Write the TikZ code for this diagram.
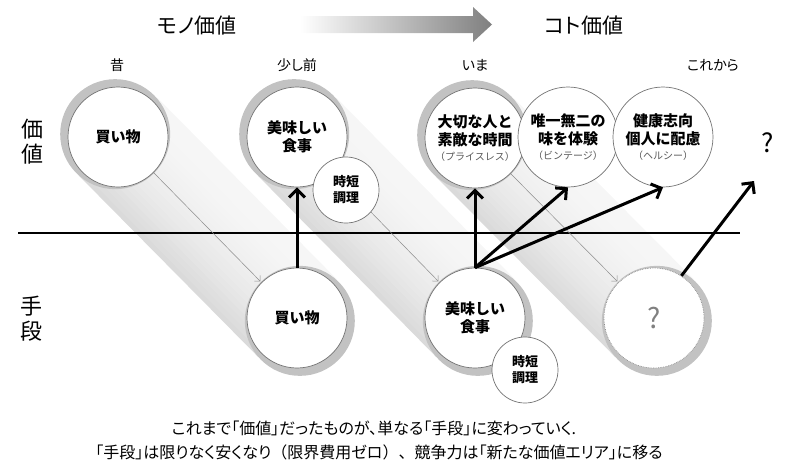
\documentclass[tikz,border=0pt]{standalone}
\usepackage{fontspec}
\setmainfont{Noto Sans CJK JP}
\newfontfamily\jpp[RawFeature=+palt]{Noto Sans CJK JP}
\usetikzlibrary{arrows.meta,calc,backgrounds}
\newcommand\subtxt{\fontsize{10}{12}\selectfont\mdseries\color{black!65}}
\begin{document}
\begin{tikzpicture}[x=1pt,y=-1pt,
  circ/.style={circle, draw=black!55, line width=0.7pt, fill=white, minimum size=100pt, inner sep=0pt, align=center, font=\fontsize{15}{18}\selectfont\bfseries},
  smallcirc/.style={circle, draw=black!55, line width=0.7pt, fill=white, minimum size=66pt, inner sep=0pt, align=center, font=\fontsize{13}{16}\selectfont\bfseries},
  era/.style={font=\jpp\fontsize{14}{16}\selectfont, inner sep=0pt},
  title/.style={font=\jpp\fontsize{21}{24}\selectfont, inner sep=0pt},
  side/.style={font=\fontsize{22}{25}\selectfont, align=center, inner sep=0pt},
  note/.style={font=\jpp\fontsize{16}{18}\selectfont, inner sep=0pt},
  thinarr/.style={draw=black!45, line width=0.5pt, -{Straight Barb[length=4pt,width=8pt]}, shorten >=1.5pt},
  thickarr/.style={draw=black, line width=3pt, -{Straight Barb[length=8pt,width=16pt]}},
  rim/.style={fill=black!24}
]
\useasboundingbox (0,0) rectangle (800,469);

% centres
\coordinate (ct1) at (118,137);
\coordinate (ct2) at (297,137);
\coordinate (ct3) at (475,138);
\coordinate (cb1) at (297,318);
\coordinate (cb2) at (475,318);
\coordinate (cb3) at (654,318);

% nodes
\node[circ] (t1) at (ct1) {買い物};
\node[circ] (t2) at (ct2) {美味しい\\食事};
\node[smallcirc] (s1) at (346,190) {時短\\調理};
\node[circ] (t3) at (ct3) {大切な人と\\素敵な時間\\[-3pt]{\subtxt（プライスレス）}};
\node[circ] (t4) at (568,137) {唯一無二の\\味を体験\\[-3pt]{\subtxt（ビンテージ）}};
\node[circ] (t5) at (663,137) {健康志向\\個人に配慮\\[-3pt]{\subtxt（ヘルシー）}};
\node[circ] (b1) at (cb1) {買い物};
\node[circ] (b2) at (cb2) {美味しい\\食事};
\node[smallcirc] (s2) at (525,370) {時短\\調理};
\node[circ, draw=black!45, densely dotted, font=\fontsize{28}{30}\selectfont, text=black!50] (b3) at (cb3) {?};
\node[font=\fontsize{26}{28}\selectfont, inner sep=0pt] (qt) at (768,143) {?};
\coordinate (q1) at (754,181);

\begin{scope}[on background layer]
  % bands
  \foreach \A/\B in {ct1/cb1, ct2/cb2, ct3/cb3} {
    \foreach \i in {0,...,21} {
      \pgfmathsetmacro{\sa}{-55+\i*5}
      \pgfmathsetmacro{\sb}{\sa+5.6}
      \pgfmathsetmacro{\pc}{3.5+11*(1-\i/21)*(1-\i/21)}
      \fill[black!\pc] ($(\A)!\sa pt!90:(\B)$) -- ($(\B)!\sa pt!-90:(\A)$) -- ($(\B)!\sb pt!-90:(\A)$) -- ($(\A)!\sb pt!90:(\B)$) -- cycle;
    }
    \fill[rim] ($(\A)!-4pt!(\B)$) circle (55);
    \fill[rim] ($(\B)!-4pt!(\A)$) circle (55);
  }
  % axis line
  \coordinate (hl1) at (18,233);
  \coordinate (hl2) at (740,233);
  \draw[line width=1.3pt] (hl1) -- (hl2);
  % thin arrows
  \draw[thinarr] (t1.-45) -- (b1.135);
  \draw[thinarr] (t2.-45) -- (b2.135);
  \draw[thinarr] (t3.-45) -- (b3.135);
\end{scope}

% thick arrows
\draw[thickarr] (b1.north) -- (t2.south);
\draw[thickarr] (b2.north) -- (t3.south);
\draw[thickarr] (b2.north) -- (t4.south);
\draw[thickarr] (b2.north) -- (t5.south);
\draw[thickarr] (b3.57) -- (q1);

% header
\node[title] (mono) at (197,26) {モノ価値};
\node[title] (koto) at (584,26) {コト価値};
\shade[left color=white, middle color=black!38, right color=black!50]
  (300,16) -- (473,16) -- (473,7) -- (492,24.5) -- (473,42) -- (473,33) -- (300,33) -- cycle;
\node[era] (e1) at (117,65) {昔};
\node[era] (e2) at (297,65) {少し前};
\node[era] (e3) at (475,65) {いま};
\node[era] (e4) at (713,65) {これから};

% side labels
\node[side] (sv) at (32,142) {価\\値};
\node[side] (sm) at (31,319) {手\\段};

% notes
\node[note] (n1) at (374,428) {これまで「価値」だったものが、単なる「手段」に変わっていく.};
\node[note] (n2) at (379,452) {「手段」は限りなく安くなり{\normalfont（}限界費用ゼロ{\normalfont）、}競争力は「新たな価値エリア」に移る};
\end{tikzpicture}
\end{document}
